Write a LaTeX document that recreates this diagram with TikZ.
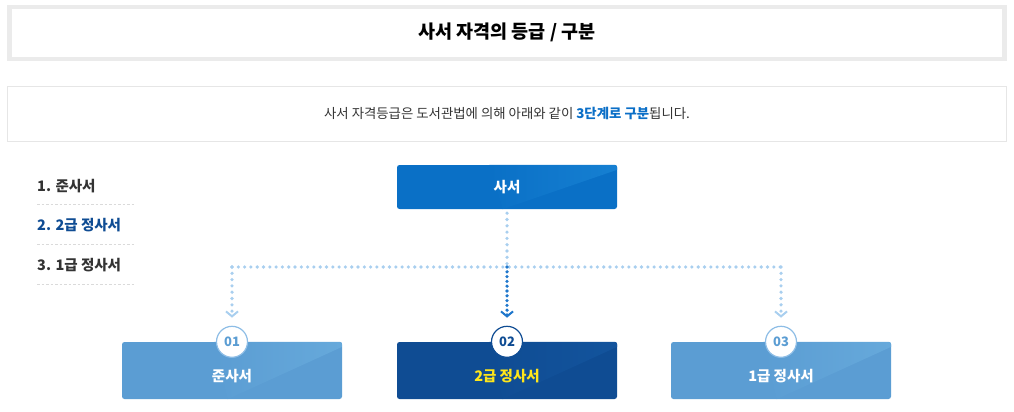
\documentclass[tikz,border=0pt]{standalone}
\usepackage{fontspec}
\setmainfont{Noto Sans CJK KR}
\usepackage{xcolor}
\usepackage{tikz}
\usetikzlibrary{arrows.meta,positioning,calc}
\definecolor{titlegray}{HTML}{EBEBEB}
\definecolor{boxgray}{HTML}{E6E6E6}
\definecolor{textgray}{HTML}{333333}
\definecolor{navy}{HTML}{0F4C93}
\definecolor{mainblue}{HTML}{0A70C6}
\definecolor{mainlight}{HTML}{1680D2}
\definecolor{softblue}{HTML}{5B9DD3}
\definecolor{softlight}{HTML}{66A9DB}
\definecolor{navylight}{HTML}{13549D}
\definecolor{dotblue}{HTML}{A9CFEF}
\definecolor{dotdark}{HTML}{1F77CC}
\definecolor{ringblue}{HTML}{8DBDE6}
\definecolor{hiblue}{HTML}{0B6FC7}
\definecolor{gold}{HTML}{FFE61A}
\definecolor{sepgray}{HTML}{DADADA}
\tikzset{
  grade/.style={rounded corners=2.5pt, minimum width=220pt, minimum height=57pt, inner sep=0pt},
  topbox/.style={grade, minimum height=44pt, fill=mainblue},
  gradetext/.style={font=\fontsize{14.5}{16}\selectfont\bfseries, text=white},
  badge/.style={circle, draw, line width=1.2pt, fill=white, minimum size=31pt, inner sep=0pt, font=\fontsize{13}{15}\selectfont\bfseries},
  listitem/.style={anchor=west, inner sep=0pt, text=textgray, font=\fontsize{14.5}{16}\selectfont\bfseries},
  sepline/.style={draw=sepgray, line width=0.8pt, dash pattern=on 2.5pt off 2pt},
  dotline/.style={draw=dotblue, line width=3.6pt, line cap=round, dash pattern=on 0pt off 6.3pt},
  dotdown/.style={dotline, shorten >=10pt, -{Straight Barb[length=5pt, width=12pt, line width=2pt, sep=-2pt]}},
  centerdown/.style={draw=dotdark, line width=3.6pt, line cap=round, dash pattern=on 0pt off 4.8pt, shorten >=10pt, -{Straight Barb[length=5pt, width=12pt, line width=2pt, sep=-2pt]}}
}
% diagonal highlight on a box
\newcommand{\boxsheen}[3]{%
  \begin{scope}
    \clip[rounded corners=2.5pt] (#1.south west) rectangle (#1.north east);
    \shade[left color=#2, right color=#3] ($(#1.north west)!0.42!(#1.north east)$) -- (#1.north east)
      -- ($(#1.north east)+(0,5)$) -- ($(#1.south west)!0.48!(#1.south east)$) -- cycle;
  \end{scope}}

\begin{document}
\begin{tikzpicture}[x=1pt, y=-1pt]
  \useasboundingbox (0,0) rectangle (1014,412);

  % heading boxes
  \draw[titlegray, line width=4.5pt, fill=white] (9.5,7) rectangle (1004.5,59);
  \node[font=\fontsize{18.5}{20}\selectfont\bfseries, text=black] (title) at (507,32) {사서 자격의 등급 / 구분};
  \draw[boxgray, line width=0.8pt] (7.5,86.5) rectangle (1006.5,141.5);
  \node[font=\fontsize{13.4}{15}\selectfont, text=textgray] (intro) at (507,113)
    {사서 자격등급은 도서관법에 의해 아래와 같이 {\color{hiblue}\bfseries 3단계로 구분}됩니다.};

  % left list
  \node[listitem] (l1) at (37,186) {1. 준사서};
  \node[listitem, text=navy] (l2) at (37,225) {2. 2급 정사서};
  \node[listitem] (l3) at (37,265) {3. 1급 정사서};
  \foreach \y in {204.5,244.5,284.5}
    \draw[sepline] (37,\y) -- (135,\y);

  % grades
  \node[topbox] (sa) at (507,187) {};
  \boxsheen{sa}{mainblue}{mainlight}
  \node[gradetext] at (sa) {사서};

  \node[grade, fill=softblue] (g1) at (232,370.5) {};
  \node[grade, fill=navy] (g2) at (507,370.5) {};
  \node[grade, fill=softblue] (g3) at (781,370.5) {};
  \boxsheen{g1}{softblue}{softlight}
  \boxsheen{g2}{navy}{navylight}
  \boxsheen{g3}{softblue}{softlight}
  \node[gradetext] at ($(g1)+(0,6)$) {준사서};
  \node[gradetext, text=gold] at ($(g2)+(0,6)$) {2급 정사서};
  \node[gradetext] at ($(g3)+(0,6)$) {1급 정사서};

  \node[badge, draw=ringblue, text=softblue] (c1) at (g1.north) {01};
  \node[badge, draw=navy, text=navy] (c2) at (g2.north) {02};
  \node[badge, draw=ringblue, text=softblue] (c3) at (g3.north) {03};

  % connectors
  \coordinate (j) at (sa.south |- 0,267);
  \coordinate (jl) at (c1.north |- j);
  \coordinate (jr) at (c3.north |- j);
  \draw[dotline] ($(sa.south)+(0,4)$) -- (j);
  \draw[dotline] (jl) -- (jr);
  \draw[dotdown] (jl) -- (c1.north);
  \draw[dotdown] (jr) -- (c3.north);
  \draw[centerdown] (j) -- (c2.north);
\end{tikzpicture}
\end{document}
